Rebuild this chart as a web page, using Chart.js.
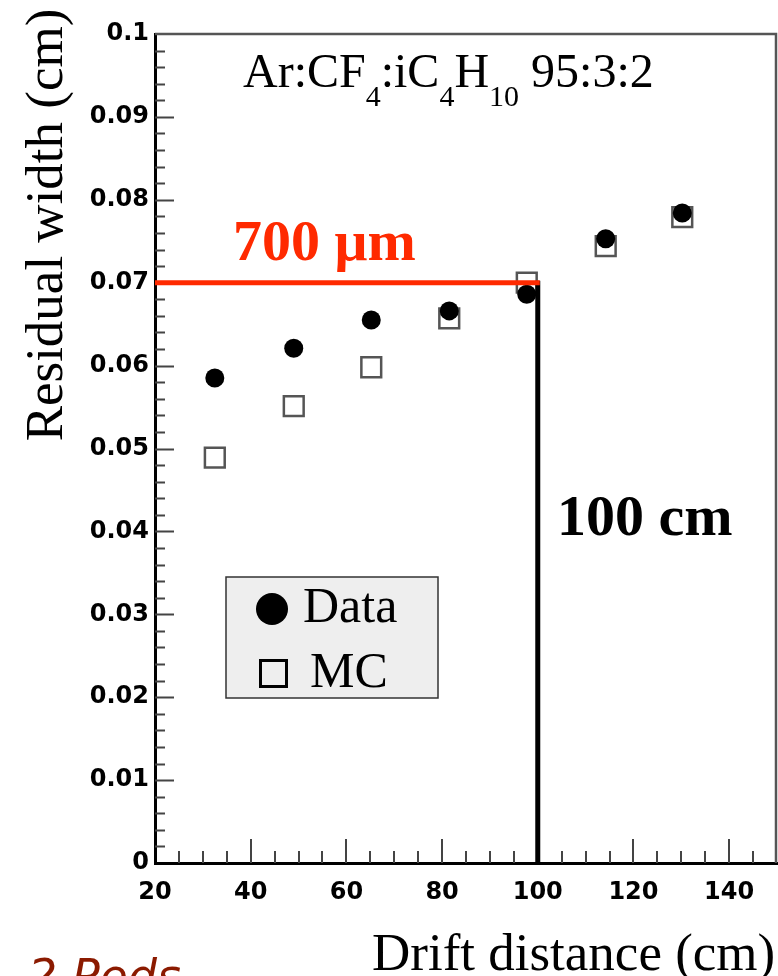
<!DOCTYPE html>
<html>
<head>
<meta charset="utf-8">
<script src="https://cdn.jsdelivr.net/npm/chart.js@4/dist/chart.umd.min.js"></script>
<style>
  html, body { margin: 0; padding: 0; background: #fff; }
</style>
</head>
<body>
<canvas id="residChart" width="778" height="976"></canvas>
<script>
// values
const driftDistance = [32.5, 49, 65.2, 81.5, 97.7, 114.2, 130.2];
const dataWidth = [0.0585, 0.0621, 0.0655, 0.0666, 0.0686, 0.0753, 0.0784];
const mcWidth = [0.0489, 0.0551, 0.0598, 0.0657, 0.0700, 0.0744, 0.0779];

const xTicks = [20, 40, 60, 80, 100, 120, 140];
const yTicks = [0, 0.01, 0.02, 0.03, 0.04, 0.05, 0.06, 0.07, 0.08, 0.09, 0.1];
const yTickLabels = ['0', '0.01', '0.02', '0.03', '0.04', '0.05', '0.06', '0.07', '0.08', '0.09', '0.1'];

const limitWidth = 0.07;   // 700 um
const limitDistance = 100; // 100 cm

const serif = '"Liberation Serif", "Times New Roman", serif';

const decor = {
    id: 'decor',
    afterDatasetsDraw(chart) {
        const { ctx, chartArea: a, scales: { x, y } } = chart;
        ctx.save();

        // inner ticks
        ctx.strokeStyle = '#444';
        ctx.lineWidth = 2;
        ctx.beginPath();
        for (let i = 1; i < 50; i++) {
            const py = Math.round(y.getPixelForValue(i * 0.002)) + 0.5;
            const len = i % 5 === 0 ? 19 : 10;
            ctx.moveTo(a.left, py);
            ctx.lineTo(a.left + len, py);
        }
        for (let i = 1; i < 26; i++) {
            const v = 20 + i * 5;
            const px = Math.round(x.getPixelForValue(v));
            const len = v % 20 === 0 ? 24 : 12;
            ctx.moveTo(px, a.bottom);
            ctx.lineTo(px, a.bottom - len);
        }
        ctx.stroke();

        // top / right frame
        ctx.strokeStyle = '#555';
        ctx.lineWidth = 2.5;
        ctx.beginPath();
        ctx.moveTo(a.left, a.top);
        ctx.lineTo(a.right - 1, a.top);
        ctx.lineTo(a.right - 1, a.bottom);
        ctx.stroke();

        // 700 um / 100 cm guide lines
        const gx = x.getPixelForValue(limitDistance);
        const gy = y.getPixelForValue(limitWidth);
        ctx.lineWidth = 5;
        ctx.strokeStyle = '#000';
        ctx.beginPath();
        ctx.moveTo(gx, gy - 2);
        ctx.lineTo(gx, a.bottom);
        ctx.stroke();
        ctx.strokeStyle = '#ff2a00';
        ctx.beginPath();
        ctx.moveTo(a.left, gy);
        ctx.lineTo(gx + 2, gy);
        ctx.stroke();

        ctx.textBaseline = 'alphabetic';
        ctx.textAlign = 'left';

        ctx.fillStyle = '#ff2a00';
        ctx.font = 'bold 58px ' + serif;
        ctx.fillText('700 \u03bcm', 233, 260);

        ctx.fillStyle = '#000';
        ctx.fillText('100 cm', 557, 535);

        // gas mixture title with subscripts
        const parts = [['Ar:CF', 0], ['4', 1], [':iC', 0], ['4', 1], ['H', 0], ['10', 1], [' 95:3:2', 0]];
        let tx = 243;
        for (const [s, sub] of parts) {
            ctx.font = (sub ? '30px ' : '48px ') + serif;
            ctx.fillText(s, tx, sub ? 106 : 87);
            tx += ctx.measureText(s).width;
        }

        // axis titles
        ctx.font = '53px ' + serif;
        ctx.fillText('Drift distance (cm)', 372, 970);
        ctx.save();
        ctx.translate(62, 225);
        ctx.rotate(-Math.PI / 2);
        ctx.textAlign = 'center';
        ctx.fillText('Residual width (cm)', 0, 0);
        ctx.restore();

        // legend box
        ctx.fillStyle = '#eeeeee';
        ctx.fillRect(226, 577, 212, 121);
        ctx.strokeStyle = '#333';
        ctx.lineWidth = 1.5;
        ctx.strokeRect(226, 577, 212, 121);
        ctx.fillStyle = '#000';
        ctx.beginPath();
        ctx.arc(272, 609, 16, 0, Math.PI * 2);
        ctx.fill();
        ctx.lineWidth = 3;
        ctx.strokeStyle = '#000';
        ctx.strokeRect(260.5, 660.5, 26, 26);
        ctx.font = '50px ' + serif;
        ctx.fillText('Data', 303, 622);
        ctx.fillText('MC', 310, 687);

        // slide footer, cut off
        ctx.fillStyle = '#8b1a00';
        ctx.font = 'italic 46px "DejaVu Sans", sans-serif';
        ctx.fillText('2 Pods', 28, 992);

        ctx.restore();
    }
};

new Chart(document.getElementById('residChart'), {
    type: 'scatter',
    data: {
        datasets: [{
            label: 'Data',
            data: driftDistance.map((d, i) => ({ x: d, y: dataWidth[i] })),
            pointStyle: 'circle',
            pointRadius: 9.5,
            backgroundColor: '#000',
            borderWidth: 0
        }, {
            label: 'MC',
            data: driftDistance.map((d, i) => ({ x: d, y: mcWidth[i] })),
            pointStyle: 'rect',
            pointRadius: 14,
            backgroundColor: 'rgba(255,255,255,0)',
            borderColor: '#555',
            borderWidth: 2.5
        }]
    },
    options: {
        responsive: false,
        animation: false,
        events: [],
        layout: { autoPadding: false, padding: { top: 34, right: 1, bottom: 0, left: 0 } },
        plugins: { legend: { display: false }, tooltip: { enabled: false } },
        scales: {
            x: {
                type: 'linear',
                min: 20,
                max: 150,
                afterBuildTicks: s => { s.ticks = xTicks.map(v => ({ value: v })); },
                afterFit: s => {
                    s.height = 113;
                    s.paddingLeft = 0;
                    s.paddingRight = 0;
                },
                grid: { display: false, drawTicks: false },
                border: { display: true, color: '#000', width: 3 },
                ticks: {
                    color: '#000',
                    font: { family: 'DejaVu Sans', size: 24, weight: 'bold' },
                    padding: 15,
                    maxRotation: 0,
                    autoSkip: false
                }
            },
            y: {
                min: 0,
                max: 0.1,
                afterBuildTicks: s => { s.ticks = yTicks.map(v => ({ value: v })); },
                afterFit: s => {
                    s.width = 155;
                    s.paddingTop = 0;
                    s.paddingBottom = 0;
                },
                grid: { display: false, drawTicks: false },
                border: { display: true, color: '#000', width: 3 },
                ticks: {
                    color: '#000',
                    font: { family: 'DejaVu Sans', size: 24, weight: 'bold' },
                    padding: 6,
                    autoSkip: false,
                    callback: (v, i) => yTickLabels[i]
                }
            }
        }
    },
    plugins: [decor]
});
</script>
</body>
</html>
